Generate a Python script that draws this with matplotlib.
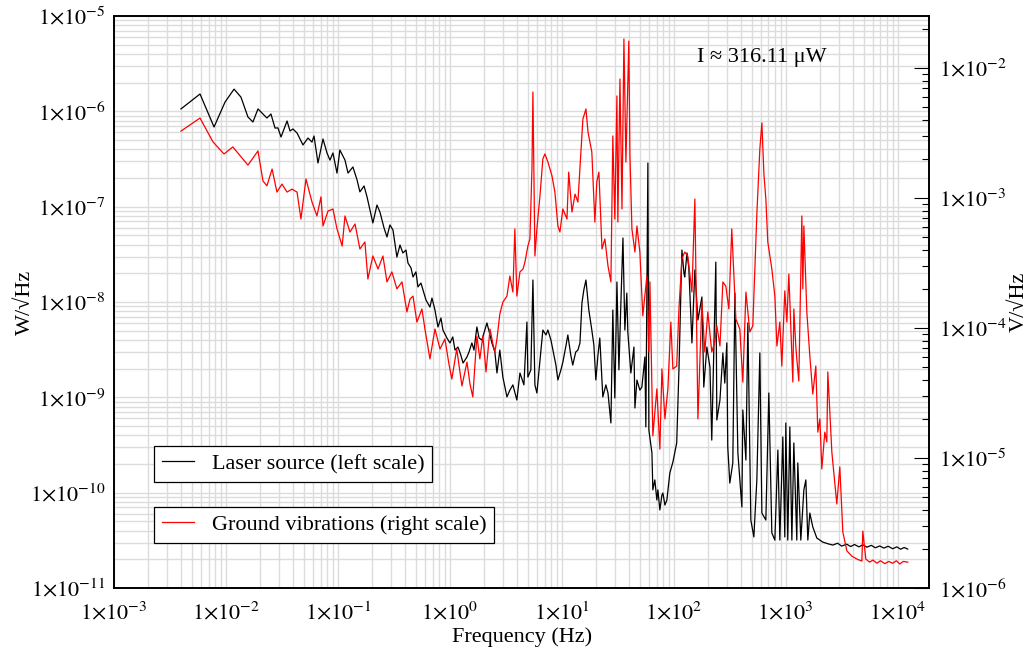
import numpy as np
import matplotlib.pyplot as plt
from matplotlib.ticker import FixedLocator, LogLocator, FuncFormatter, NullFormatter

plt.rcParams['font.family'] = ['Liberation Serif', 'DejaVu Serif']
plt.rcParams['mathtext.fontset'] = 'stix'
plt.rcParams['font.size'] = 16

# laser source noise, W/sqrt(Hz) (left scale)
laser_freq = [
    0.00396, 0.00586, 0.00782, 0.0098, 0.0118, 0.0136, 0.0157, 0.0174, 0.0193, 0.0232,
    0.0252, 0.0274, 0.0291, 0.0310, 0.0351, 0.0373, 0.0396, 0.0431, 0.0487, 0.0540,
    0.0586, 0.0611, 0.0663, 0.0735, 0.0798, 0.0848, 0.0902, 0.098, 0.104, 0.1155,
    0.123, 0.136, 0.148, 0.157, 0.171, 0.182, 0.193, 0.205, 0.223, 0.237,
    0.258, 0.274, 0.291, 0.310, 0.336, 0.358, 0.380, 0.405, 0.422, 0.449,
    0.468, 0.497, 0.518, 0.551, 0.574, 0.611, 0.663, 0.691, 0.735, 0.782,
    0.831, 0.866, 0.940, 1.00, 1.06, 1.11, 1.18, 1.25, 1.31, 1.42,
    1.48, 1.57, 1.64, 1.74, 1.82, 1.93, 2.05, 2.14, 2.28, 2.37,
    2.52, 2.63, 2.79, 2.97, 3.23, 3.43, 3.65, 3.96, 4.22, 4.58,
    4.87, 4.97, 5.28, 5.51, 5.74, 5.98, 6.37, 6.76, 7.20, 7.50,
    7.98, 8.32, 8.84, 9.21, 9.8, 10.2, 10.9, 11.3, 12.0, 12.5,
    13.3, 13.9, 14.5, 15.1, 15.7, 16.4, 17.4, 18.5, 19.3, 20.1,
    21.0, 21.8, 23.2, 24.7, 25.8, 27.4, 28.5, 29.7, 31.0, 32.3,
    33.7, 35.1, 36.5, 38.0, 38.8, 41.3, 44.0, 44.9, 46.8, 49.7,
    51.8, 55.1, 56.2, 58.6, 59.8, 63.7, 64.9, 67.6, 70.5, 72.0,
    75.0, 78.2, 79.8, 83.2, 86.6, 92.1, 98, 106, 111, 118,
    123, 125, 131, 136, 145, 154, 164, 178, 185, 197,
    210, 218, 237, 242, 258, 274, 285, 297, 303, 316,
    336, 351, 373, 405, 413, 440, 458, 487, 518, 551,
    586, 611, 663, 705, 750, 798, 849, 884, 940, 979,
    1000, 1041, 1086, 1132, 1179, 1253, 1279, 1361, 1449, 1510,
    1572, 1638, 1741, 1892, 2138,
    2400, 2630, 2900, 3150, 3500, 3800, 4100, 4500, 4870, 5300,
    5800, 6300, 6900, 7500, 8200, 9000, 9800, 10600, 11400, 12270,
]
laser_psd = [
    1.06e-6, 1.52e-6, 6.85e-7, 1.25e-6, 1.71e-6, 1.41e-6, 8.73e-7, 7.73e-7, 1.06e-6, 8.51e-7,
    9.38e-7, 6.68e-7, 6.7e-7, 5.38e-7, 7.92e-7, 6.22e-7, 6.53e-7, 5.93e-7, 4.44e-7, 5.25e-7,
    4.76e-7, 5.51e-7, 2.87e-7, 5.13e-7, 3.66e-7, 3.08e-7, 3.66e-7, 2.25e-7, 3.93e-7, 3.08e-7,
    2.25e-7, 2.61e-7, 1.91e-7, 1.43e-7, 1.65e-7, 1.26e-7, 9.23e-8, 6.75e-8, 1.04e-7, 8.79e-8,
    5.97e-8, 4.81e-8, 6.43e-8, 5.69e-8, 2.96e-8, 3.96e-8, 3.27e-8, 3.51e-8, 2.56e-8, 2.28e-8,
    1.83e-8, 2.07e-8, 1.44e-8, 1.58e-8, 1.34e-8, 1.05e-8, 8.85e-9, 1.10e-8, 8.24e-9, 5.47e-9,
    6.79e-9, 5.08e-9, 4.19e-9, 3.72e-9, 4.30e-9, 3.13e-9, 3.37e-9, 2.78e-9, 2.29e-9, 2.65e-9,
    2.99e-9, 3.72e-9, 3.13e-9, 5.47e-9, 4.19e-9, 3.99e-9, 5.08e-9, 6.03e-9, 4.51e-9, 3.72e-9,
    2.99e-9, 1.80e-9, 3.13e-9, 1.63e-9, 1.01e-9, 1.19e-9, 1.35e-9, 9.38e-10, 1.80e-9, 1.35e-9,
    6.17e-9, 1.63e-9, 1.94e-9, 1.70e-8, 1.35e-9, 1.11e-9, 2.46e-9, 5.08e-9, 4.51e-9, 5.08e-9,
    3.99e-9, 3.13e-9, 2.18e-9, 1.52e-9, 1.94e-9, 2.34e-9, 3.54e-9, 4.51e-9, 2.78e-9, 2.18e-9,
    2.99e-9, 3.13e-9, 3.72e-9, 9.75e-9, 1.34e-8, 1.70e-8, 8.24e-9, 5.08e-9, 3.54e-9, 1.52e-9,
    2.78e-9, 4.19e-9, 1.01e-9, 1.35e-9, 1.11e-9, 5.38e-10, 8.24e-9, 9.84e-10, 1.62e-8, 1.94e-9,
    1.05e-8, 4.69e-8, 5.08e-9, 1.24e-8, 4.84e-9, 1.80e-9, 3.37e-9, 7.73e-10, 1.52e-9, 1.19e-9,
    1.28e-9, 2.65e-9, 4.89e-10, 2.87e-7, 4.54e-10, 2.61e-10, 1.07e-10, 1.36e-10, 8.37e-11, 1.07e-10,
    6.58e-11, 9.44e-11, 9.91e-11, 7.41e-11, 8.37e-11, 1.61e-10, 2.09e-10, 3.32e-10, 1.94e-9, 3.51e-8,
    2.01e-8, 1.83e-8, 3.27e-8, 2.28e-8, 3.72e-9, 2.17e-8, 6.47e-9, 1.13e-8, 1.28e-9, 3.37e-9,
    2.08e-9, 3.56e-10, 2.62e-8, 5.78e-10, 9.38e-10, 2.92e-9, 1.41e-9, 3.72e-9, 3.01e-10, 1.26e-10,
    2.05e-10, 1.24e-8, 2.61e-10, 7.06e-11, 7.36e-10, 2.20e-10, 6.03e-9, 5.16e-11, 3.43e-11, 1.36e-10,
    2.92e-9, 6.11e-11, 5.16e-11, 1.11e-9, 3.78e-11, 3.18e-11, 2.80e-10, 3.18e-11, 3.84e-10, 3.43e-11,
    5.38e-10, 3.18e-11, 4.89e-10, 3.18e-11, 3.32e-10, 3.18e-11, 2.05e-10, 3.18e-11, 1.07e-10, 1.36e-10,
    3.18e-11, 6.11e-11, 4.37e-11, 3.34e-11, 3.03e-11,
    2.9e-11, 2.82e-11, 2.95e-11, 2.75e-11, 2.88e-11, 2.72e-11, 2.86e-11, 2.7e-11, 2.84e-11, 2.68e-11,
    2.8e-11, 2.64e-11, 2.76e-11, 2.62e-11, 2.74e-11, 2.58e-11, 2.7e-11, 2.55e-11, 2.66e-11, 2.56e-11,
]

# ground vibrations, V/sqrt(Hz) (right scale)
ground_freq = [
    0.00396, 0.00586, 0.00765, 0.0096, 0.0115, 0.0157, 0.0193, 0.0214, 0.0232, 0.0258,
    0.0285, 0.0316, 0.0351, 0.0388, 0.0431, 0.0467, 0.0518, 0.0586, 0.0649, 0.0705,
    0.0735, 0.0815, 0.0902, 0.098, 0.109, 0.1155, 0.128, 0.142, 0.157, 0.174,
    0.185, 0.205, 0.228, 0.252, 0.274, 0.303, 0.336, 0.373, 0.413, 0.440,
    0.468, 0.507, 0.562, 0.598, 0.663, 0.735, 0.815, 0.902, 0.980, 1.04,
    1.15, 1.28, 1.42, 1.51, 1.60, 1.74, 1.85, 1.97, 2.10, 2.28,
    2.42, 2.52, 2.63, 2.79, 2.97, 3.23, 3.43, 3.65, 3.80, 3.96,
    4.22, 4.49, 4.68, 4.97, 5.18, 5.40, 5.51, 5.74, 5.98, 6.37,
    6.76, 7.05, 7.50, 8.15, 8.66, 9.21, 9.6, 10.2, 11.1, 11.5,
    12.3, 13.1, 13.9, 15.4, 16.4, 17.1, 18.5, 19.7, 20.5, 21.4,
    22.8, 24.2, 25.8, 27.4, 28.5, 29.7, 31.0, 31.6, 33.0, 34.4,
    35.8, 37.3, 39.6, 40.5, 42.2, 44.9, 46.8, 49.7, 52.8, 57.4,
    59.8, 61.1, 64.9, 70.5, 75.0, 78.2, 83.2, 88.4, 94.0, 98,
    106, 111, 118, 125, 133, 145, 154, 164, 178, 189,
    201, 218, 232, 242, 258, 274, 291, 310, 329, 358,
    388, 413, 440, 477, 507, 551, 586, 611, 637, 663,
    690, 750, 798, 832, 884, 921, 979, 1021, 1064, 1155,
    1179, 1227, 1253, 1306, 1390, 1419, 1449, 1540, 1638, 1741,
    1853, 1931, 2013, 2096, 2229, 2323, 2371, 2576, 2853, 3035,
    3228, 3508, 3882, 4306, 4775,
    4870, 5180, 5600, 6000, 6500, 7000, 7650, 8300, 9020, 9700,
    10400, 11200, 12270,
]
ground_psd = [
    3.27e-3, 4.12e-3, 2.70e-3, 2.18e-3, 2.47e-3, 1.79e-3, 2.30e-3, 1.35e-3, 1.24e-3, 1.67e-3,
    1.11e-3, 1.28e-3, 1.11e-3, 1.17e-3, 1.11e-3, 6.89e-4, 1.40e-3, 9.31e-4, 7.27e-4, 1.02e-3,
    6.09e-4, 7.94e-4, 8.23e-4, 5.78e-4, 4.27e-4, 7.27e-4, 5.47e-4, 6.31e-4, 4.05e-4, 4.59e-4,
    2.38e-4, 3.58e-4, 2.84e-4, 3.58e-4, 2.26e-4, 2.70e-4, 2.0e-4, 2.26e-4, 1.33e-4, 1.67e-4,
    1.76e-4, 1.11e-4, 1.40e-4, 9.82e-5, 5.78e-5, 9.82e-5, 6.89e-5, 8.23e-5, 5.28e-5, 4.05e-5,
    6.89e-5, 3.58e-5, 5.47e-5, 3.71e-5, 2.95e-5, 8.68e-5, 5.78e-5, 8.68e-5, 4.59e-5, 9.82e-5,
    7.53e-5, 6.53e-5, 8.23e-5, 1.28e-4, 1.58e-4, 1.76e-4, 2.51e-4, 1.89e-4, 5.78e-4, 1.76e-4,
    2.70e-4, 2.84e-4, 3.22e-4, 4.27e-4, 4.84e-4, 1.67e-3, 6.53e-3, 3.58e-4, 5.78e-4, 1.04e-3,
    2.0e-3, 2.18e-3, 1.89e-3, 1.48e-3, 1.11e-3, 6.09e-4, 5.47e-4, 8.23e-4, 6.89e-4, 1.58e-3,
    7.80e-4, 1.07e-3, 9.31e-4, 4.05e-3, 4.84e-3, 3.22e-3, 2.26e-3, 6.53e-4, 1.33e-3, 1.58e-3,
    4.05e-4, 4.84e-4, 3.0e-4, 2.26e-4, 3.0e-3, 6.89e-4, 6.09e-3, 6.53e-4, 8.23e-3, 8.23e-4,
    1.67e-2, 1.89e-3, 1.61e-2, 2.18e-3, 5.78e-4, 3.84e-4, 6.09e-4, 3.84e-4, 1.24e-4, 2.51e-4,
    6.53e-5, 2.26e-4, 1.48e-5, 3.40e-5, 1.17e-5, 4.84e-5, 2.0e-5, 3.40e-5, 1.11e-4, 4.84e-5,
    5.10e-5, 1.40e-4, 3.40e-4, 3.84e-4, 3.58e-4, 1.89e-4, 9.82e-4, 2.0e-5, 1.58e-4, 6.53e-5,
    1.33e-4, 6.53e-5, 7.80e-5, 1.04e-4, 7.27e-5, 2.26e-4, 2.10e-4, 1.40e-4, 5.78e-4, 1.17e-4,
    9.82e-5, 3.84e-5, 1.89e-4, 9.31e-5, 1.04e-4, 7.53e-4, 2.38e-3, 3.78e-3, 1.53e-3, 9.82e-4,
    4.59e-4, 2.84e-4, 1.76e-4, 7.27e-5, 1.11e-4, 5.10e-5, 1.93e-4, 1.11e-4, 2.60e-4, 3.84e-5,
    1.40e-4, 7.27e-5, 5.78e-5, 3.91e-5, 7.27e-4, 2.0e-4, 6.09e-4, 1.33e-4, 6.09e-5, 3.10e-5,
    5.10e-5, 1.58e-5, 2.0e-5, 8.23e-6, 1.58e-5, 1.33e-5, 4.59e-5, 1.11e-5, 4.43e-6, 8.53e-6,
    2.70e-6, 1.93e-6, 1.76e-6, 1.67e-6, 1.61e-6,
    2.74e-6, 1.67e-6, 1.58e-6, 1.64e-6, 1.55e-6, 1.62e-6, 1.54e-6, 1.6e-6, 1.55e-6, 1.62e-6,
    1.53e-6, 1.6e-6, 1.58e-6,
]

x_decades = 10.0 ** np.arange(-3, 5)
left_decades = 10.0 ** np.arange(-11, -4)
right_decades = 10.0 ** np.arange(-6, -1)

fig = plt.figure(figsize=(10.32, 6.51), dpi=100)
ax = fig.add_axes([0.1105, 0.0968, 0.7897, 0.8786])
ax2 = ax.twinx()

line1, = ax.plot(laser_freq, laser_psd, color='black', lw=0.9)
line2, = ax2.plot(ground_freq, ground_psd, color='red', lw=0.9)

ax.set_xscale('log')
ax.set_yscale('log')
ax2.set_yscale('log')
ax.set_xlim(1e-3, 1.9e4)
ax.set_ylim(1e-11, 1e-5)
ax2.set_ylim(1e-6, 2.51e-2)


def sci(v, pos):
    return r'$1{\times}10^{%d}$' % int(round(np.log10(v)))


ax.xaxis.set_major_locator(FixedLocator(x_decades))
ax.yaxis.set_major_locator(FixedLocator(left_decades))
ax2.yaxis.set_major_locator(FixedLocator(right_decades))
for axis in (ax.xaxis, ax.yaxis, ax2.yaxis):
    axis.set_major_formatter(FuncFormatter(sci))
    axis.set_minor_locator(LogLocator(base=10, subs=np.arange(2, 10), numticks=40))
    axis.set_minor_formatter(NullFormatter())

ax.grid(True, which='both', color='#dcdcdc', lw=1.0)
ax.set_axisbelow(True)

ax.tick_params(axis='x', which='both', length=0, pad=10)
ax.tick_params(axis='y', which='both', length=0, pad=6)
ax2.tick_params(axis='y', which='major', direction='in', length=11, width=0.8, pad=7)
ax2.tick_params(axis='y', which='minor', direction='in', length=5, width=0.8)

for a in (ax, ax2):
    for sp in a.spines.values():
        sp.set_linewidth(1.2)
        sp.set_color('black')

ax.set_xlabel('Frequency (Hz)')
ax.set_ylabel('W/√Hz')
ax2.set_ylabel('V/√Hz')
ax.xaxis.set_label_coords(0.5006, -0.068)
ax.yaxis.set_label_coords(-0.097, 0.5)
ax2.yaxis.set_label_coords(1.099, 0.5)

ax.text(0.795, 0.9266, 'I ≈ 316.11 μW', transform=ax.transAxes,
        ha='center', va='center')

leg_style = dict(loc='lower left', bbox_transform=fig.transFigure, borderaxespad=0,
                 frameon=True, fancybox=False, edgecolor='black', framealpha=1,
                 handlelength=1.45, handletextpad=0.8, borderpad=0.35)
leg1 = ax2.legend([line1], ['Laser source (left scale)'],
                  bbox_to_anchor=(0.1492, 0.2596), **leg_style)
leg1.get_frame().set_linewidth(0.9)
ax2.add_artist(leg1)
leg2 = ax2.legend([line2], ['Ground vibrations (right scale)'],
                  bbox_to_anchor=(0.1492, 0.1659), **leg_style)
leg2.get_frame().set_linewidth(0.9)

fig.savefig('out.png', dpi=100)
